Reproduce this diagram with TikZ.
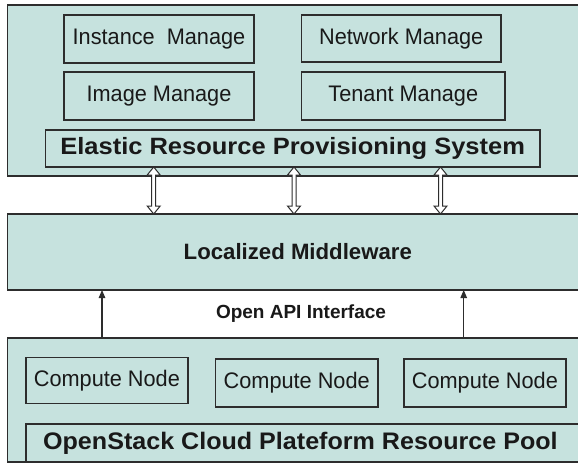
\documentclass[tikz,border=0pt]{standalone}
\usepackage{fontspec}
\setmainfont{Liberation Sans}
\newfontfamily\regfont{Liberation Sans}[FakeStretch=0.965]
\newfontfamily\erpsfont{Liberation Sans Bold}[FakeStretch=1.08]
\newfontfamily\osfont{Liberation Sans Bold}[FakeStretch=1.05]
\newfontfamily\mwfont{Liberation Sans Bold}[FakeStretch=1.0]
\newfontfamily\apifont{Liberation Sans Bold}[FakeStretch=1.0]
\usetikzlibrary{arrows.meta,calc}
\definecolor{boxfill}{RGB}{198,226,222}
\definecolor{boxline}{RGB}{45,45,45}
\definecolor{txt}{RGB}{25,25,25}
\begin{document}
\begin{tikzpicture}[x=1pt,y=-1pt,
  outerbox/.style={draw=boxline,fill=boxfill,line width=1.4pt,inner sep=0pt,outer sep=0pt},
  innerbox/.style={draw=boxline,fill=boxfill,line width=1.4pt,inner sep=0pt,outer sep=0pt,text=txt,
    font=\regfont\fontsize{22.5}{26}\selectfont},
  titlebox/.style={innerbox,font=\erpsfont\fontsize{23.6}{27}\selectfont},
  labeltext/.style={text=txt,inner sep=0pt,font=\mwfont\fontsize{22.2}{26}\selectfont},
  apitext/.style={text=txt,inner sep=0pt,font=\apifont\fontsize{19}{22}\selectfont},
  hollow/.style={draw=boxline,fill=white,line width=1pt,line join=miter},
  solidarrow/.style={draw=boxline,line width=1.2pt,-{Triangle[length=8pt,width=6.5pt]}}]
\useasboundingbox (0,0) rectangle (578,463);
\clip (0,0) rectangle (578,463);
\fill[white] (0,0) rectangle (578,463);
% top layer
\node[outerbox,minimum width=592.3,minimum height=171] (top) at (303.85,90.5) {};
\node[innerbox,minimum width=190,minimum height=48] (inst) at (159,39) {Instance\ \ Manage};
\node[innerbox,minimum width=199.5,minimum height=47] (net) at (401.25,38.5) {Network Manage};
\node[innerbox,minimum width=190,minimum height=48] (img) at (159,96) {Image Manage};
\node[innerbox,minimum width=203.5,minimum height=48] (ten) at (403.25,96) {Tenant Manage};
\node[titlebox,minimum width=494.7,minimum height=37] (erps) at (292.65,148.5) {Elastic Resource Provisioning System};
% middleware
\node[outerbox,minimum width=592.3,minimum height=76] (mw) at (303.85,252) {};
\node[labeltext] (mwtext) at (297.8,252) {Localized Middleware};
% bottom layer
\node[outerbox,minimum width=592.3,minimum height=124] (pool) at (303.85,400) {};
\node[innerbox,minimum width=162.2,minimum height=46] (c1) at (106.9,380.5) {Compute Node};
\node[innerbox,minimum width=162.2,minimum height=48] (c2) at (296.7,383) {Compute Node};
\node[innerbox,minimum width=161.8,minimum height=48] (c3) at (484.9,383) {Compute Node};
\node[innerbox,draw=none,minimum width=574.2,minimum height=38] (os) at (312.9,443) {};
\draw[boxline,line width=1.4pt] (os.south west) -- (os.north west) -- (os.north east);
\node[text=txt,inner sep=0pt,font=\osfont\fontsize{23.9}{27}\selectfont] (ostext) at (300.4,443) {OpenStack Cloud Plateform Resource Pool};
\draw[boxline,line width=1.4pt] (pool.south west) -- (pool.south east);
% API label
\node[apitext] (api) at (301,314) {Open API Interface};
% double hollow arrows
\foreach \xx/\nm in {153.7/a, 294/b, 440.5/c}{
  \coordinate (x\nm) at (\xx,0);
  \coordinate (t\nm) at (erps.south -| x\nm);
  \coordinate (b\nm) at (mw.north -| x\nm);
  \path[hollow] (t\nm) -- ++(6.5,8) -- ++(-4.5,0) -- ($(b\nm)+(2,-8)$) -- ++(4.5,0) -- (b\nm)
     -- ++(-6.5,-8) -- ++(4.5,0) -- ($(t\nm)+(-2,8)$) -- ++(-4.5,0) -- cycle;
}
% single arrows
\coordinate (xl) at (102,0);
\coordinate (xr) at (463.7,0);
\draw[solidarrow] (pool.north -| xl) -- (mw.south -| xl);
\draw[solidarrow] (pool.north -| xr) -- (mw.south -| xr);
\end{tikzpicture}
\end{document}
